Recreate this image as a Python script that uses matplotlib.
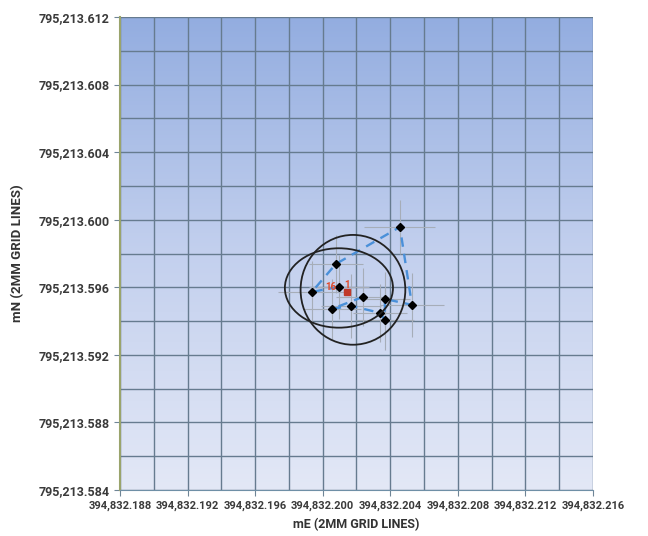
import numpy as np
import matplotlib.pyplot as plt
from matplotlib.patches import Ellipse
from matplotlib.ticker import FuncFormatter
from matplotlib.colors import LinearSegmentedColormap

plt.rcParams['font.family'] = ['Roboto', 'DejaVu Sans']

# offsets from base coordinates (m)
E0 = 394832.0
N0 = 795213.0

# survey points, in traversal order
east = [0.20096, 0.19936, 0.20078, 0.20457, 0.20528, 0.20368, 0.20368,
        0.20338, 0.20167, 0.20054, 0.20238]
north = [0.59602, 0.59573, 0.59738, 0.59957, 0.59496, 0.59531, 0.59407,
         0.59449, 0.59490, 0.59472, 0.59543]
err_e = [0.0018, 0.0020, 0.0016, 0.0021, 0.0019, 0.0015, 0.0017,
         0.0016, 0.0018, 0.0017, 0.0016]
err_n = [0.0019, 0.0018, 0.0017, 0.0016, 0.0019, 0.0016, 0.0018,
         0.0017, 0.0019, 0.0018, 0.0017]

# mean position (red)
mean_e = 0.20143
mean_n = 0.59573

# error ellipses: centre e, centre n, width, height
ell_e = [0.20096, 0.20179]
ell_n = [0.59596, 0.59585]
ell_w = [0.0064, 0.0062]
ell_h = [0.0047, 0.0065]

xticks = np.arange(0.188, 0.2161, 0.004)
yticks = np.arange(0.584, 0.6121, 0.004)

fig = plt.figure(figsize=(6.48, 5.36), dpi=100)
ax = fig.add_axes([0.1852, 0.0858, 0.7299, 0.8825])

# gradient background
cmap = LinearSegmentedColormap.from_list('bg', ['#e3e8f6', '#c3d0ee', '#93ade0'])
grad = np.linspace(0, 1, 256).reshape(-1, 1)
ax.imshow(grad, cmap=cmap, origin='lower', aspect='auto',
          extent=[E0 + 0.188, E0 + 0.216, N0 + 0.584, N0 + 0.612], zorder=0)

ax.set_xlim(E0 + 0.188, E0 + 0.216)
ax.set_ylim(N0 + 0.584, N0 + 0.612)
ax.set_xticks(E0 + xticks)
ax.set_yticks(N0 + yticks)
ax.set_xticks(E0 + np.arange(0.190, 0.216, 0.004), minor=True)
ax.set_yticks(N0 + np.arange(0.586, 0.612, 0.004), minor=True)
ax.grid(True, which='both', color='#667b8f', linewidth=1.0, zorder=1)
ax.set_axisbelow(True)

fmt = FuncFormatter(lambda v, p: f'{v:,.3f}')
ax.xaxis.set_major_formatter(fmt)
ax.yaxis.set_major_formatter(fmt)
ax.tick_params(axis='both', which='major', labelcolor='#3a3a3a',
               color='#6f8596', length=4)
ax.tick_params(axis='x', labelsize=8)
ax.tick_params(axis='y', labelsize=9)
ax.tick_params(axis='both', which='minor', length=0)
for lab in ax.get_xticklabels() + ax.get_yticklabels():
    lab.set_fontweight('bold')

for s in ['top', 'right']:
    ax.spines[s].set_visible(False)
ax.spines['left'].set_color('#9aa46c')
ax.spines['left'].set_linewidth(1.5)
ax.spines['bottom'].set_color('#6f8fa6')

ax.set_xlabel('mE (2MM GRID LINES)', fontsize=9, fontweight='bold', color='#333333', labelpad=5)
ax.set_ylabel('mN (2MM GRID LINES)', fontsize=9.5, fontweight='bold', color='#333333', labelpad=10)

E = E0 + np.array(east)
N = N0 + np.array(north)

ax.errorbar(E, N, xerr=err_e, yerr=err_n, fmt='none', ecolor='#a6adb8',
            elinewidth=0.8, zorder=2)
ax.plot(E, N, linestyle=(0, (4, 3)), color='#4a90d9', linewidth=1.7, zorder=3)
ax.plot(E, N, 'D', color='black', markersize=4, zorder=4)

for ce, cn, w, h in zip(ell_e, ell_n, ell_w, ell_h):
    ax.add_patch(Ellipse((E0 + ce, N0 + cn), w, h, fill=False,
                         edgecolor='#222222', linewidth=1.3, zorder=5))

ax.plot(E0 + mean_e, N0 + mean_n, 's', color='#c0392b', markersize=5, zorder=6)
ax.text(E0 + mean_e - 0.00002, N0 + mean_n + 0.0001, '1', color='#e04a2a',
        fontsize=7, fontweight='bold', ha='center', va='bottom', zorder=6)
ax.text(E0 + 0.20050, N0 + 0.59600, '16', color='#e04a2a',
        fontsize=7, fontweight='bold', ha='center', va='center', zorder=6)

plt.savefig('out.png', dpi=100)
